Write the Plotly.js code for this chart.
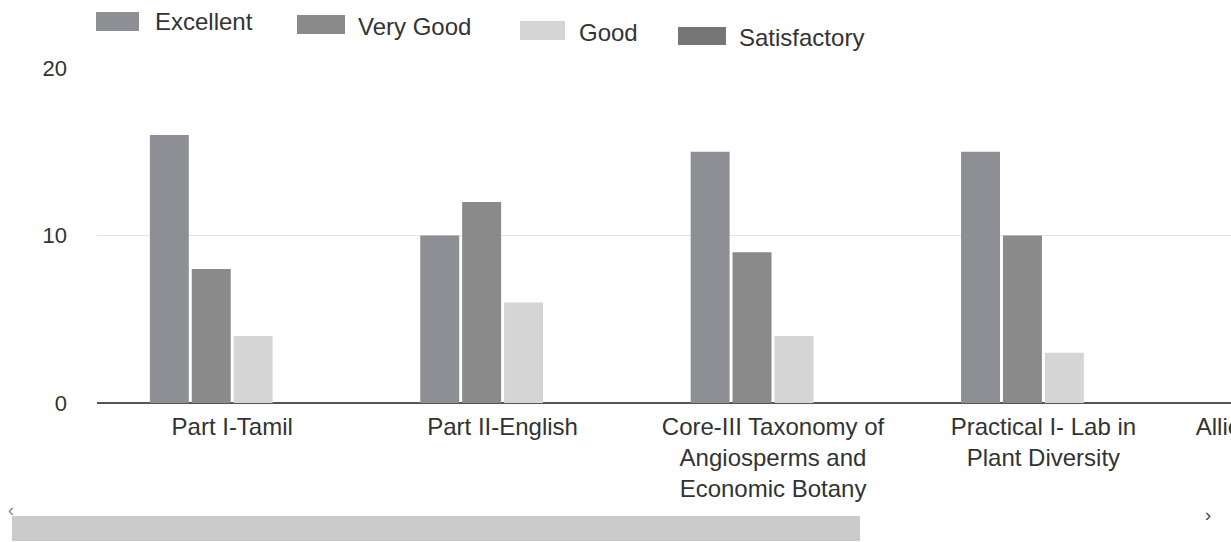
<!DOCTYPE html>
<html>
<head>
<meta charset="utf-8">
<script src="https://cdn.plot.ly/plotly-3.0.1.min.js"></script>
<style>
  html, body { margin: 0; padding: 0; background: #ffffff; overflow: hidden; width: 1231px; height: 542px; }
  #chart { width: 1460px; height: 542px; }
</style>
</head>
<body>
<div id="chart"></div>
<script>
// ---- data ----
const categories = [
  "Part I-Tamil",
  "Part II-English",
  "Core-III Taxonomy of<br>Angiosperms and<br>Economic Botany",
  "Practical I- Lab in<br>Plant Diversity",
  "Allied II- Chemistry for"
];
const seriesNames = ["Excellent", "Very Good", "Good", "Satisfactory"];
const excellent    = [16, 10, 15, 15, null];
const veryGood     = [8, 12, 9, 10, null];
const good         = [4, 6, 4, 3, null];
const satisfactory = [0, 0, 0, 0, null];
const yTicks = [0, 10, 20];

// ---- styles ----
const colors = ["#8e8f95", "#8a8a8a", "#d5d5d5", "#767676"];
const font = "Liberation Sans, Arial, Helvetica, sans-serif";
const textColor = "#333333";

const seriesValues = [excellent, veryGood, good, satisfactory];
const traces = seriesNames.map((name, i) => ({
  type: "bar",
  name: name,
  x: categories,
  y: seriesValues[i],
  marker: { color: colors[i], line: { width: 0 } },
  hoverinfo: "x+y+name"
}));

// plot area geometry (pixels)
const L = 97, T = 68, PW = 1352, PH = 335;
const px = v => (v - L) / PW;
const py = v => (T + PH - v) / PH;

// manual legend (matching the wide swatches of the original)
const legendItems = [
  { sx0: 96,  sx1: 139, sy0: 12, sy1: 31, tx: 153, ty: 21 },
  { sx0: 297, sx1: 345, sy0: 15, sy1: 34, tx: 356, ty: 26 },
  { sx0: 520, sx1: 565, sy0: 21, sy1: 40, tx: 577, ty: 32 },
  { sx0: 678, sx1: 726, sy0: 27, sy1: 45, tx: 737, ty: 38 }
];
const shapes = legendItems.map((it, i) => ({
  type: "rect", xref: "paper", yref: "paper",
  x0: px(it.sx0), x1: px(it.sx1), y0: py(it.sy1), y1: py(it.sy0),
  fillcolor: colors[i], line: { width: 0 }
}));
const annotations = legendItems.map((it, i) => ({
  xref: "paper", yref: "paper", x: px(it.tx), y: py(it.ty),
  xanchor: "left", yanchor: "middle", showarrow: false,
  text: seriesNames[i], font: { family: font, size: 24, color: textColor }
}));

// scrollbar decoration at the bottom
shapes.push({
  type: "rect", xref: "paper", yref: "paper",
  x0: px(12), x1: px(860), y0: py(541), y1: py(516),
  fillcolor: "#cacaca", line: { width: 0 }
});
annotations.push({
  xref: "paper", yref: "paper", x: px(6), y: py(522), showarrow: false,
  text: "‹", font: { family: font, size: 18, color: "#888888" }
});
annotations.push({
  xref: "paper", yref: "paper", x: px(1213), y: py(527), showarrow: false,
  text: "›", font: { family: font, size: 18, color: "#444444" }
});

const layout = {
  width: 1460, height: 542,
  margin: { l: L, r: 1460 - L - PW, t: T, b: 542 - T - PH, pad: 0 },
  paper_bgcolor: "#ffffff", plot_bgcolor: "#ffffff",
  showlegend: false,
  barmode: "group",
  bargap: 0.38,
  bargroupgap: 0.07,
  font: { family: font, color: textColor },
  xaxis: {
    type: "category",
    categoryorder: "array",
    categoryarray: categories,
    range: [-0.5, categories.length - 0.5],
    showgrid: false, showline: false, zeroline: false,
    ticks: "",
    tickfont: { family: font, size: 24, color: textColor },
    ticklabelstandoff: 7,
    fixedrange: true
  },
  yaxis: {
    range: [0, 20],
    tickvals: yTicks,
    ticktext: yTicks.map(String),
    showgrid: true, gridcolor: "#e4e4e4", gridwidth: 1,
    zeroline: true, zerolinecolor: "#555555", zerolinewidth: 2,
    showline: false, ticks: "",
    tickfont: { family: font, size: 22, color: textColor },
    ticklabelstandoff: 29,
    fixedrange: true
  },
  shapes: shapes,
  annotations: annotations
};

Plotly.newPlot("chart", traces, layout, { displayModeBar: false, staticPlot: true });
</script>
</body>
</html>
